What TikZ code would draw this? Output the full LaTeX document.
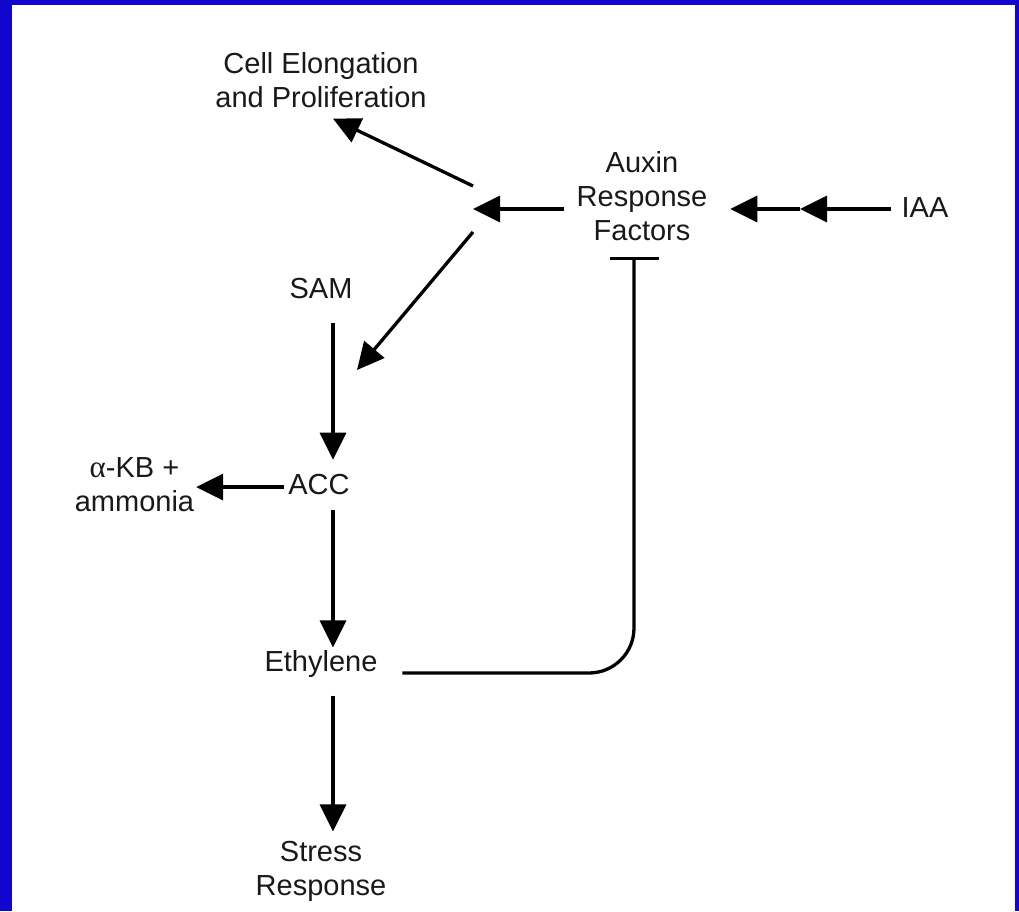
\documentclass[tikz,border=0pt]{standalone}
\usepackage{fontspec}
\setmainfont{Liberation Sans}
\newfontfamily\grk{Liberation Serif}
\usetikzlibrary{arrows.meta}
\definecolor{frameblue}{RGB}{17,6,208}
\definecolor{ink}{RGB}{25,25,25}
\begin{document}
\begin{tikzpicture}[x=1pt,y=-1pt,
  lbl/.style={inner sep=0pt, outer sep=0pt, align=center, font=\fontsize{29}{34}\selectfont, text=ink},
  arr/.style={line width=3.3pt, draw=black, -{Triangle[length=27pt,width=26pt]}},
  inh/.style={line width=3.3pt, draw=black, rounded corners=45pt, -{Bar[width=49pt,line width=3.3pt]}}]
\fill[frameblue] (0,0) rectangle (1019,911);
\fill[white] (12,5) rectangle (1015,911);
\useasboundingbox (0,0) rectangle (1019,911);
% nodes
\node[lbl] (cell) at (321,80) {Cell Elongation\\and Proliferation};
\node[lbl] (arf) at (642,196) {Auxin\\Response\\Factors};
\node[lbl] (iaa) at (925,208) {IAA};
\node[lbl] (sam) at (321,288.5) {SAM};
\node[lbl] (acc) at (319,485) {ACC};
\node[lbl] (akb) at (134.5,485) {{\grk\fontsize{31}{34}\selectfont α}-KB +\\ammonia};
\node[lbl] (eth) at (321,664) {Ethylene};
\node[lbl] (str) at (321,871.5) {Stress\\Response};
\coordinate (hub) at (473,209);
\coordinate (hubup) at (473,186);
\coordinate (hubdn) at (473,232);
\coordinate (accin) at (357,370);
\coordinate (mid) at (800,209);
% connectors
\draw[arr] ([shift={(-11,1)}]iaa.west) -- (mid);
\draw[arr] (mid) -- ([shift={(23,13)}]arf.east);
\draw[arr] ([shift={(-13,13)}]arf.west) -- (hub);
\draw[arr] (hubup) -- ([shift={(12,11)}]cell.south);
\draw[arr] (hubdn) -- (accin);
\draw[arr] ([shift={(12,24.5)}]sam.south) -- ([shift={(14,-15)}]acc.north);
\draw[arr] ([shift={(-4,2)}]acc.west) -- ([shift={(2,2)}]akb.east);
\draw[arr] ([shift={(14,15)}]acc.south) -- ([shift={(12,-3)}]eth.north);
\draw[arr] ([shift={(12,18)}]eth.south) -- ([shift={(12,-10)}]str.north);
\draw[inh] ([shift={(25,9)}]eth.east) -| ([shift={(-8,16)}]arf.south);
\end{tikzpicture}
\end{document}
